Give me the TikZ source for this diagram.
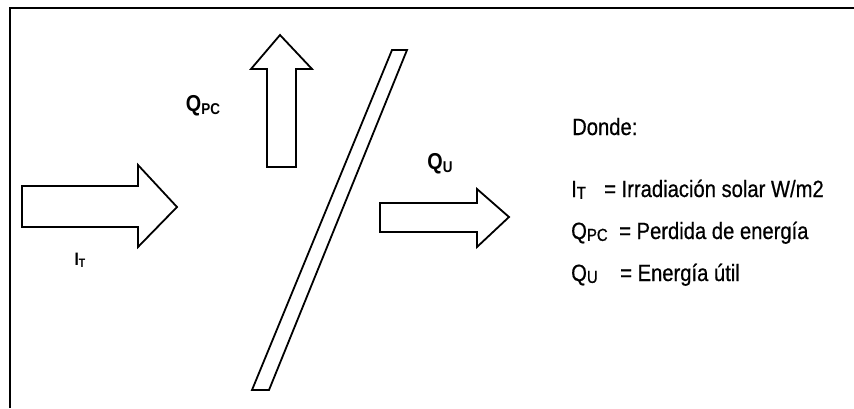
\documentclass[tikz,border=0pt]{standalone}
\usepackage{fontspec}
\setmainfont{Liberation Sans}
\newfontfamily\narrowfont[FakeStretch=0.86]{Liberation Sans}
\newfontfamily\legendfont[FakeStretch=0.86,FakeBold=0.6]{Liberation Sans}
\newcommand\lowsub[1]{\raisebox{-0.1em}{\scalebox{0.68}{#1}}}
\newcommand\legsub[1]{\raisebox{-0.08em}{\scalebox{0.74}{#1}}}
\begin{document}
\begin{tikzpicture}[x=1pt,y=-1pt]
\tikzset{
  frameline/.style={line width=2pt},
  shapeline/.style={draw=black, line width=1.8pt, line join=miter, fill=white},
  lbl/.style={inner sep=0pt, font=\fontsize{23}{23}\selectfont\bfseries\narrowfont},
  legend/.style={inner sep=0pt, anchor=base west, font=\fontsize{23.5}{24}\selectfont\legendfont}
}
\useasboundingbox (0,0) rectangle (854,408);
\fill[white] (0,0) rectangle (854,408);
% frame
\draw[frameline] (10,408) -- (10,8) -- (854,8);
% incoming irradiation arrow
\draw[shapeline] (22,186) -- (138,186) -- (138,165) -- (177,207) -- (138,247) -- (138,227) -- (22,227) -- cycle;
% loss arrow (up)
\draw[shapeline] (267,167) -- (267,69) -- (251,69) -- (280,35) -- (312,69) -- (296,69) -- (296,167) -- cycle;
% useful energy arrow
\draw[shapeline] (380,203) -- (477,203) -- (477,189) -- (509,217) -- (477,247) -- (477,232) -- (380,232) -- cycle;
% collector plate
\draw[shapeline] (252,390) -- (269,390) -- (407,50) -- (392,50) -- cycle;
% labels
\node[lbl, font=\fontsize{18}{18}\selectfont\bfseries\narrowfont] (lit) at (80,260) {I\lowsub{T}};
\node[lbl] (lqpc) at (203,106) {Q\lowsub{PC}};
\node[lbl] (lqu) at (440,164) {Q\lowsub{U}};
% legend
\node[legend] (donde) at (572,135) {Donde:};
\node[legend] (k1) at (571,197) {I\legsub{T}};
\node[legend] (v1) at (604,197) {= Irradiación solar W/m2};
\node[legend] (k2) at (571,239) {Q\legsub{PC}};
\node[legend] (v2) at (619,239) {= Perdida de energía};
\node[legend] (k3) at (571,281) {Q\legsub{U}};
\node[legend] (v3) at (620,281) {= Energía útil};
\end{tikzpicture}
\end{document}
